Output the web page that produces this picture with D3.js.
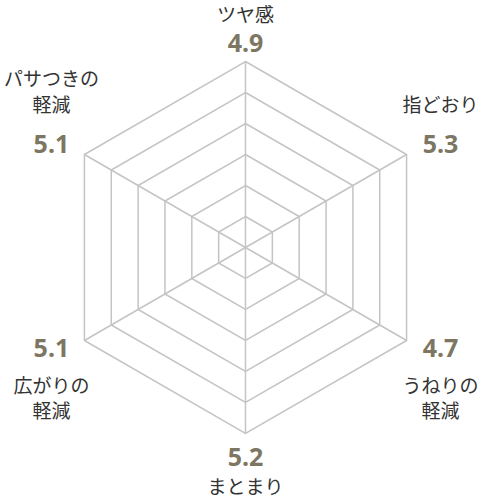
<!DOCTYPE html>
<html>
<head>
<meta charset="utf-8">
<script src="https://cdn.jsdelivr.net/npm/d3@7"></script>
<style>
  html, body { margin: 0; padding: 0; background: #fff; }
  svg { display: block; }
</style>
</head>
<body>
<div id="chart"></div>
<script>
// axis labels clockwise from top, line breaks as separate entries
const categories = [
  ["ツヤ感"],
  ["指どおり"],
  ["うねりの", "軽減"],
  ["まとまり"],
  ["広がりの", "軽減"],
  ["パサつきの", "軽減"],
];
const values = [4.9, 5.3, 4.7, 5.2, 5.1, 5.1];
const levels = [1, 2, 3, 4, 5, 6];

const width = 480;
const height = 497;
const cx = 245.5;
const cy = 247.5;

const svg = d3
  .select("#chart")
  .append("svg")
  .attr("width", width)
  .attr("height", height);

const r = d3.scaleLinear().domain([0, 6]).range([0, 186]);
const angle = d3
  .scaleLinear()
  .domain([0, categories.length])
  .range([-Math.PI / 2, (3 * Math.PI) / 2]);

const point = (i, v) => [
  cx + r(v) * Math.cos(angle(i)),
  cy + r(v) * Math.sin(angle(i)),
];

const grid = svg.append("g").attr("class", "grid");
const line = d3.line().curve(d3.curveLinearClosed);

// rings
grid
  .selectAll("path.ring")
  .data(levels)
  .join("path")
  .attr("class", "ring")
  .attr("d", (lv) => line(categories.map((c, i) => point(i, lv))))
  .attr("fill", "none")
  .attr("stroke", "#c4c4c4")
  .attr("stroke-width", 1.5);

// spokes
grid
  .selectAll("line.spoke")
  .data(categories)
  .join("line")
  .attr("class", "spoke")
  .attr("x1", cx)
  .attr("y1", cy)
  .attr("x2", (d, i) => point(i, d3.max(levels))[0])
  .attr("y2", (d, i) => point(i, d3.max(levels))[1])
  .attr("stroke", "#c4c4c4")
  .attr("stroke-width", 1.5);

// where the value and label go for each vertex
function placement(i) {
  const [vx, vy] = point(i, d3.max(levels));
  const s = Math.sin(angle(i));
  const c = Math.cos(angle(i));
  const lh = 25.5;
  if (s < -0.99) {
    return { x: vx, value: vy - 10, lines: (n) => d3.range(n).map((k) => vy - 40 - (n - 1 - k) * lh) };
  }
  if (s > 0.99) {
    return { x: vx, value: vy + 32, lines: (n) => d3.range(n).map((k) => vy + 60 + k * lh) };
  }
  const x = vx + (c > 0 ? 34 : -33);
  if (s < 0) {
    return { x, value: vy - 2, lines: (n) => d3.range(n).map((k) => vy - 43 - (n - 1 - k) * lh) };
  }
  return { x, value: vy + 16, lines: (n) => d3.range(n).map((k) => vy + 52 + k * lh) };
}

const labels = svg
  .append("g")
  .attr("class", "labels")
  .selectAll("g")
  .data(categories)
  .join("g");

labels.each(function (lines, i) {
  const p = placement(i);
  const g = d3.select(this);
  g.append("text")
    .attr("x", p.x)
    .attr("y", p.value)
    .attr("text-anchor", "middle")
    .style("font-family", "'Noto Sans', 'Open Sans', sans-serif")
    .style("font-weight", 700)
    .style("font-size", "25px")
    .style("fill", "#7d7663")
    .text(values[i].toFixed(1));
  const ys = p.lines(lines.length);
  g.selectAll("text.cat")
    .data(lines)
    .join("text")
    .attr("class", "cat")
    .attr("x", p.x)
    .attr("y", (d, k) => ys[k])
    .attr("text-anchor", "middle")
    .style("font-family", "'Noto Sans CJK JP', sans-serif")
    .style("font-size", "19px")
    .style("fill", "#333")
    .text((d) => d);
});
</script>
</body>
</html>
